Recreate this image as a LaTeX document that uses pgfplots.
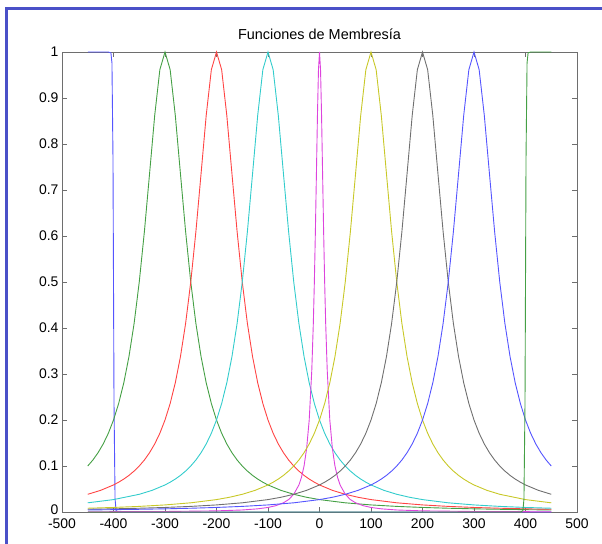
\documentclass[border=0pt]{standalone}
\usepackage{pgfplots}
\pgfplotsset{compat=1.18}
\usepackage{fontspec}
\setmainfont{Liberation Sans}
\definecolor{framecol}{HTML}{4A50C8}
\definecolor{axcol}{HTML}{6E6E6E}
\definecolor{mfblue}{HTML}{5555FF}
\definecolor{mfgreen}{HTML}{45A045}
\definecolor{mfred}{HTML}{FF4444}
\definecolor{mfcyan}{HTML}{33CCCC}
\definecolor{mfmag}{HTML}{DD44DD}
\definecolor{mfyel}{HTML}{C8C828}
\definecolor{mfblack}{HTML}{707070}

\begin{document}
\begin{tikzpicture}
\useasboundingbox (0,0) rectangle (602bp,-544bp);
\draw[framecol, line width=3bp] (6.5bp,-544bp) -- (6.5bp,-8.5bp) -- (602bp,-8.5bp);
\begin{axis}[
    at={(62bp,-512bp)}, anchor=south west,
    scale only axis, width=515bp, height=460bp,
    xmin=-500, xmax=500, ymin=0, ymax=1,
    xtick={-500,-400,...,500},
    ytick={0,0.1,...,1},
    tick align=inside,
    major tick length=5bp,
    axis line style={axcol, line width=0.8bp},
    every tick/.append style={axcol, line width=0.8bp},
    tick label style={font=\fontsize{14}{16}\selectfont, black},
    /pgf/number format/assume math mode=true,
    yticklabel style={/pgf/number format/fixed, /pgf/number format/precision=1},
    yticklabel={\ifnum\ticknum=0\raisebox{5bp}{0}\else\pgfmathprintnumber{\tick}\fi},
    xticklabel style={yshift=-3bp},
    title={Funciones de Membresía},
    title style={font=\fontsize{14.5}{17}\selectfont, yshift=3bp},
    clip=false,
    every axis plot/.append style={line width=0.9bp, no markers},
]
% trapezoid-like step at -400
\addplot[mfblue] coordinates {(-450,1) (-410,1) (-405,0.998) (-403,0.976) (-401,0.77) (-400,0.5) (-399,0.234) (-397,0.029) (-395,0.003) (-390,0) (450,0)};
% bell at -300
\addplot[mfgreen] coordinates {
(-450,0.1) (-440,0.1131) (-430,0.1289) (-420,0.1479) (-410,0.1712) (-400,0.2) (-390,0.2358) (-380,0.2809) (-370,0.3378) (-360,0.4098) (-350,0.5) (-340,0.6098) (-330,0.7353) (-320,0.8621) (-310,0.9615) (-300,1)
(-290,0.9615) (-280,0.8621) (-270,0.7353) (-260,0.6098) (-250,0.5) (-240,0.4098) (-230,0.3378) (-220,0.2809) (-210,0.2358) (-200,0.2) (-190,0.1712) (-180,0.1479) (-170,0.1289) (-160,0.1131) (-150,0.1)
(-140,0.0890) (-130,0.0796) (-120,0.0716) (-110,0.0648) (-100,0.0588) (-75,0.0471) (-50,0.0385) (-25,0.0320) (0,0.0270) (50,0.02) (100,0.0154) (150,0.0122) (200,0.0099) (250,0.0082) (300,0.0069) (350,0.0059) (400,0.0051) (450,0.0044)};
% bell at -200
\addplot[mfred] coordinates {
(-450,0.0385) (-425,0.0471) (-400,0.0588) (-390,0.0648) (-380,0.0716) (-370,0.0796) (-360,0.0890) (-350,0.1) (-340,0.1131) (-330,0.1289) (-320,0.1479) (-310,0.1712) (-300,0.2) (-290,0.2358) (-280,0.2809) (-270,0.3378) (-260,0.4098) (-250,0.5) (-240,0.6098) (-230,0.7353) (-220,0.8621) (-210,0.9615) (-200,1)
(-190,0.9615) (-180,0.8621) (-170,0.7353) (-160,0.6098) (-150,0.5) (-140,0.4098) (-130,0.3378) (-120,0.2809) (-110,0.2358) (-100,0.2) (-90,0.1712) (-80,0.1479) (-70,0.1289) (-60,0.1131) (-50,0.1)
(-40,0.0890) (-30,0.0796) (-20,0.0716) (-10,0.0648) (0,0.0588) (25,0.0471) (50,0.0385) (75,0.0320) (100,0.0270) (150,0.02) (200,0.0154) (250,0.0122) (300,0.0099) (350,0.0082) (400,0.0069) (450,0.0059)};
% bell at -100
\addplot[mfcyan] coordinates {
(-450,0.02) (-400,0.0270) (-350,0.0385) (-325,0.0471) (-300,0.0588) (-290,0.0648) (-280,0.0716) (-270,0.0796) (-260,0.0890) (-250,0.1) (-240,0.1131) (-230,0.1289) (-220,0.1479) (-210,0.1712) (-200,0.2) (-190,0.2358) (-180,0.2809) (-170,0.3378) (-160,0.4098) (-150,0.5) (-140,0.6098) (-130,0.7353) (-120,0.8621) (-110,0.9615) (-100,1)
(-90,0.9615) (-80,0.8621) (-70,0.7353) (-60,0.6098) (-50,0.5) (-40,0.4098) (-30,0.3378) (-20,0.2809) (-10,0.2358) (0,0.2) (10,0.1712) (20,0.1479) (30,0.1289) (40,0.1131) (50,0.1)
(60,0.0890) (70,0.0796) (80,0.0716) (90,0.0648) (100,0.0588) (125,0.0471) (150,0.0385) (175,0.0320) (200,0.0270) (250,0.02) (300,0.0154) (350,0.0122) (400,0.0099) (450,0.0082)};
% narrow bell at 0
\addplot[mfmag] coordinates {
(-450,0.0005) (-300,0.0011) (-200,0.0025) (-150,0.0044) (-120,0.0069) (-100,0.0099) (-85,0.0137) (-70,0.02) (-60,0.027) (-50,0.0385) (-40,0.0588) (-35,0.0755) (-30,0.1) (-25,0.138) (-20,0.2) (-15,0.3077) (-12,0.410) (-10,0.5) (-8,0.610) (-6,0.735) (-4,0.862) (-2,0.9615) (0,1)
(2,0.9615) (4,0.862) (6,0.735) (8,0.610) (10,0.5) (12,0.410) (15,0.3077) (20,0.2) (25,0.138) (30,0.1) (35,0.0755) (40,0.0588) (50,0.0385) (60,0.027) (70,0.02) (85,0.0137) (100,0.0099) (120,0.0069) (150,0.0044) (200,0.0025) (300,0.0011) (450,0.0005)};
% bell at 100
\addplot[mfyel] coordinates {
(-450,0.0082) (-400,0.0099) (-350,0.0122) (-300,0.0154) (-250,0.02) (-200,0.0270) (-175,0.0320) (-150,0.0385) (-125,0.0471) (-100,0.0588) (-90,0.0648) (-80,0.0716) (-70,0.0796) (-60,0.0890) (-50,0.1) (-40,0.1131) (-30,0.1289) (-20,0.1479) (-10,0.1712) (0,0.2) (10,0.2358) (20,0.2809) (30,0.3378) (40,0.4098) (50,0.5) (60,0.6098) (70,0.7353) (80,0.8621) (90,0.9615) (100,1)
(110,0.9615) (120,0.8621) (130,0.7353) (140,0.6098) (150,0.5) (160,0.4098) (170,0.3378) (180,0.2809) (190,0.2358) (200,0.2) (210,0.1712) (220,0.1479) (230,0.1289) (240,0.1131) (250,0.1)
(260,0.0890) (270,0.0796) (280,0.0716) (290,0.0648) (300,0.0588) (325,0.0471) (350,0.0385) (400,0.0270) (450,0.02)};
% bell at 200
\addplot[mfblack] coordinates {
(-450,0.0059) (-400,0.0069) (-350,0.0082) (-300,0.0099) (-250,0.0122) (-200,0.0154) (-150,0.02) (-100,0.0270) (-75,0.0320) (-50,0.0385) (-25,0.0471) (0,0.0588) (10,0.0648) (20,0.0716) (30,0.0796) (40,0.0890) (50,0.1) (60,0.1131) (70,0.1289) (80,0.1479) (90,0.1712) (100,0.2) (110,0.2358) (120,0.2809) (130,0.3378) (140,0.4098) (150,0.5) (160,0.6098) (170,0.7353) (180,0.8621) (190,0.9615) (200,1)
(210,0.9615) (220,0.8621) (230,0.7353) (240,0.6098) (250,0.5) (260,0.4098) (270,0.3378) (280,0.2809) (290,0.2358) (300,0.2) (310,0.1712) (320,0.1479) (330,0.1289) (340,0.1131) (350,0.1)
(360,0.0890) (370,0.0796) (380,0.0716) (390,0.0648) (400,0.0588) (425,0.0471) (450,0.0385)};
% bell at 300
\addplot[mfblue] coordinates {
(-450,0.0044) (-400,0.0051) (-350,0.0059) (-300,0.0069) (-250,0.0082) (-200,0.0099) (-150,0.0122) (-100,0.0154) (-50,0.02) (0,0.0270) (25,0.0320) (50,0.0385) (75,0.0471) (100,0.0588) (110,0.0648) (120,0.0716) (130,0.0796) (140,0.0890) (150,0.1) (160,0.1131) (170,0.1289) (180,0.1479) (190,0.1712) (200,0.2) (210,0.2358) (220,0.2809) (230,0.3378) (240,0.4098) (250,0.5) (260,0.6098) (270,0.7353) (280,0.8621) (290,0.9615) (300,1)
(310,0.9615) (320,0.8621) (330,0.7353) (340,0.6098) (350,0.5) (360,0.4098) (370,0.3378) (380,0.2809) (390,0.2358) (400,0.2) (410,0.1712) (420,0.1479) (430,0.1289) (440,0.1131) (450,0.1)};
% step at 400
\addplot[mfgreen] coordinates {(-450,0) (390,0) (395,0.003) (397,0.029) (399,0.234) (400,0.5) (401,0.77) (403,0.976) (405,0.998) (410,1) (450,1)};
\end{axis}
\end{tikzpicture}
\end{document}
